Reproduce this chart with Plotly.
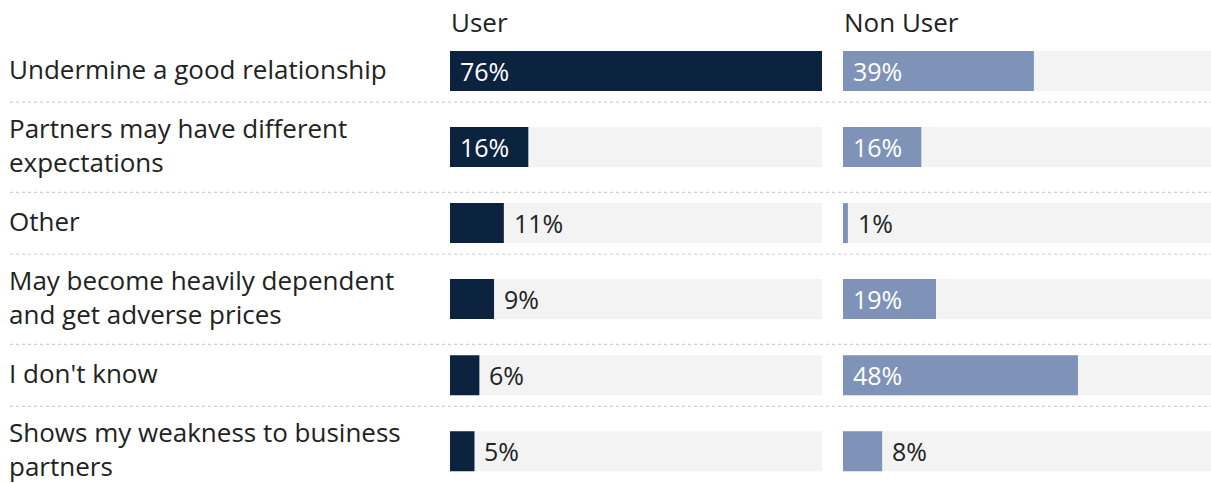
import plotly.graph_objects as go

# Survey responses: reasons given, share of respondents (%)
categories = [
    "Undermine a good relationship",
    "Partners may have different<br>expectations",
    "Other",
    "May become heavily dependent<br>and get adverse prices",
    "I don't know",
    "Shows my weakness to business<br>partners",
]
user_values = [76, 16, 11, 9, 6, 5]
non_user_values = [39, 16, 1, 19, 48, 8]
group_names = ["User", "Non User"]

USER_COLOR = "#0c2340"
NON_USER_COLOR = "#7f93b8"
TRACK_COLOR = "#f3f3f3"
TEXT_COLOR = "#222222"
FONT = "Open Sans"

W, H = 1211, 483
M_L, M_R, M_T, M_B = 450, 0, 33, 9
plot_w = W - M_L - M_R
panel1_px = 372
gap_px = 21
panel2_px = plot_w - panel1_px - gap_px  # right panel runs off the page edge

scale_max = max(max(user_values), max(non_user_values))
# same px-per-percent in both panels
x2_max = scale_max * panel2_px / panel1_px
rows = list(range(len(categories)))
inside_threshold = 15  # labels for bars at least this long sit inside the bar

fig = go.Figure()

panels = [
    (user_values, USER_COLOR, "x"),
    (non_user_values, NON_USER_COLOR, "x2"),
]

annotations = []
for (vals, color, xref), name in zip(panels, group_names):
    # grey track behind every bar
    fig.add_trace(go.Bar(
        x=[scale_max] * len(vals), y=rows, orientation="h",
        marker=dict(color=TRACK_COLOR, line=dict(width=0)),
        width=0.526, xaxis=xref, yaxis="y", hoverinfo="skip", showlegend=False,
    ))
    fig.add_trace(go.Bar(
        x=vals, y=rows, orientation="h",
        marker=dict(color=color, line=dict(width=0)),
        width=0.526, xaxis=xref, yaxis="y", name=name, showlegend=False,
    ))
    for r, v in zip(rows, vals):
        inside = v >= inside_threshold
        annotations.append(dict(
            x=0 if inside else v, y=r, xref=xref, yref="y",
            text=f"{v}%", showarrow=False, xanchor="left", yanchor="middle",
            xshift=8,
            font=dict(family=FONT, size=25, color="white" if inside else TEXT_COLOR),
        ))

# panel headers
for xref, name in zip(["x domain", "x2 domain"], group_names):
    annotations.append(dict(
        x=0, y=1, xref=xref, yref="paper", text=name, showarrow=False,
        xanchor="left", yanchor="middle", xshift=-1, yshift=11,
        font=dict(family=FONT, size=26, color=TEXT_COLOR),
    ))

# category labels on the left
label_x = (7 - M_L) / plot_w
for r, cat in zip(rows, categories):
    annotations.append(dict(
        x=label_x, y=r, xref="paper", yref="y", text=cat, showarrow=False,
        xanchor="left", yanchor="middle", align="left", yshift=2,
        font=dict(family=FONT, size=26, color=TEXT_COLOR),
    ))

# dotted separators between rows, nudged toward the shorter label
sep_x0 = (10 - M_L) / plot_w
shapes = []
for r in rows[:-1]:
    next_two_line = "<br>" in categories[r + 1]
    y_sep = r + 0.5 + (-0.09 if next_two_line else 0.095)
    shapes.append(dict(
        type="line", xref="paper", yref="y", x0=sep_x0, x1=1.0,
        y0=y_sep, y1=y_sep, line=dict(color="#cfcfcf", width=1.2, dash="dot"),
        layer="below",
    ))

d1 = panel1_px / plot_w
d2 = (panel1_px + gap_px) / plot_w

fig.update_layout(
    width=W, height=H,
    margin=dict(l=M_L, r=M_R, t=M_T, b=M_B, pad=0),
    paper_bgcolor="white", plot_bgcolor="white",
    barmode="overlay",
    font=dict(family=FONT, color=TEXT_COLOR),
    xaxis=dict(domain=[0, d1], range=[0, scale_max], visible=False, fixedrange=True),
    xaxis2=dict(domain=[d2, 1], range=[0, x2_max], visible=False, fixedrange=True),
    yaxis=dict(range=[len(rows) - 0.7, -0.5], visible=False, fixedrange=True),
    annotations=annotations,
    shapes=shapes,
)

fig.write_html("out.html")
